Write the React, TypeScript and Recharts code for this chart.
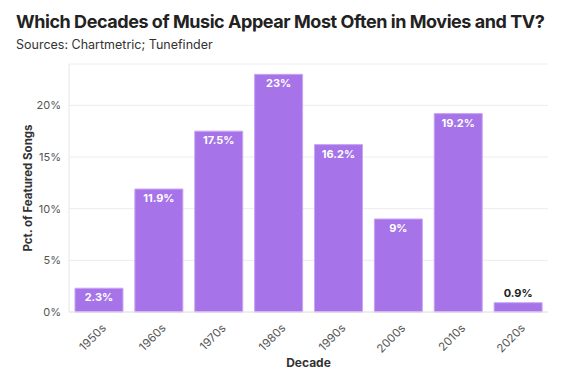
import { BarChart, Bar, XAxis, YAxis, CartesianGrid, LabelList, Label } from 'recharts';

const decades = ['1950s', '1960s', '1970s', '1980s', '1990s', '2000s', '2010s', '2020s'];
const shares = [2.3, 11.9, 17.5, 23, 16.2, 9, 19.2, 0.9];
const yTicks = [0, 5, 10, 15, 20];

const data = decades.map((d, i) => ({ decade: d, pct: shares[i] }));

const FONT = 'Inter, "Noto Sans", sans-serif';

const AngledTick = (props: any) => {
  const { x, y, payload } = props;
  return (
    <g transform={`translate(${x + 5},${y + 6})`}>
      <text textAnchor="end" transform="rotate(-45)" fill="#555" fontSize={11.5} fontFamily={FONT} dy={4}>
        {payload.value}
      </text>
    </g>
  );
};

const BarValue = (props: any) => {
  const { x, y, width, height, value } = props;
  const cx = x + width / 2;
  const txt = `${value}%`;
  if (height < 20) {
    return (
      <text x={cx} y={y - 6} textAnchor="middle" fill="#222" fontSize={11} fontWeight={700} fontFamily={FONT}>
        {txt}
      </text>
    );
  }
  return (
    <text x={cx} y={y + 13} textAnchor="middle" fill="#fff" fontSize={11} fontWeight={700} fontFamily={FONT}>
      {txt}
    </text>
  );
};

export default function App() {
  return (
    <div style={{ position: 'absolute', left: 0, top: 0, width: 588, height: 385, background: '#fff', fontFamily: FONT }}>
      <div style={{ position: 'absolute', left: 16, top: 11, fontSize: 18, letterSpacing: -0.45, fontWeight: 700, color: '#222', whiteSpace: 'nowrap' }}>
        Which Decades of Music Appear Most Often in Movies and TV?
      </div>
      <div style={{ position: 'absolute', left: 16, top: 37, fontSize: 12.5, color: '#333', whiteSpace: 'nowrap' }}>
        Sources: Chartmetric; Tunefinder
      </div>
      <BarChart
        width={588}
        height={385}
        data={data}
        margin={{ top: 64, right: 40, left: 0, bottom: 0 }}
        barCategoryGap="10%"
      >
        <CartesianGrid vertical={false} stroke="#ececec" />
        <XAxis
          dataKey="decade"
          height={73}
          tick={<AngledTick />}
          tickLine={false}
          axisLine={{ stroke: '#e6e6e6' }}
          interval={0}
        >
          <Label value="Decade" position="insideBottom" offset={18} fill="#333" fontSize={12} fontWeight={700} fontFamily={FONT} />
        </XAxis>
        <YAxis
          width={69}
          domain={[0, 24]}
          ticks={yTicks}
          tickFormatter={(v: number) => `${v}%`}
          tick={{ fill: '#555', fontSize: 11, fontFamily: FONT }}
          tickLine={false}
          axisLine={{ stroke: '#e6e6e6' }}
        >
          <Label
            value="Pct. of Featured Songs"
            angle={-90}
            position="insideLeft"
            offset={28}
            style={{ textAnchor: 'middle' }}
            fill="#333"
            fontSize={11.5}
            fontWeight={700}
            fontFamily={FONT}
          />
        </YAxis>
        <Bar dataKey="pct" fill="#a673e8" stroke="#c9a5f5" strokeWidth={1} isAnimationActive={false}>
          <LabelList dataKey="pct" content={<BarValue />} />
        </Bar>
      </BarChart>
    </div>
  );
}
